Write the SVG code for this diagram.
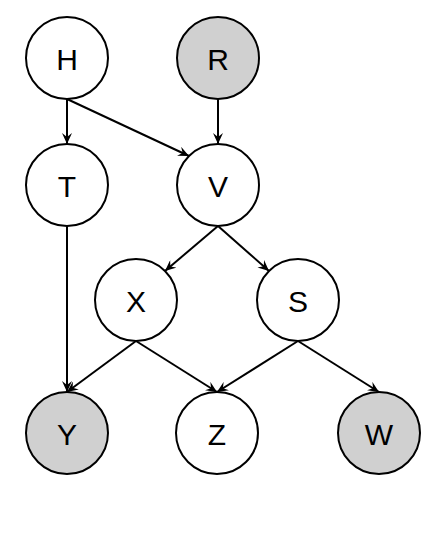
<svg xmlns="http://www.w3.org/2000/svg" width="447" height="540" viewBox="0 0 447 540">
<style>
.n circle{stroke:#000;stroke-width:2;fill:#fff}
.n.g circle{fill:#d0d0d0}
.n text{font-family:"Liberation Sans",Arial,sans-serif;font-size:30px;text-anchor:middle;dominant-baseline:central;fill:#000}
#edges line{stroke:#000;stroke-width:2;marker-end:url(#ah)}
</style>
<defs>
<marker id="ah" markerWidth="12" markerHeight="10" refX="11" refY="5" orient="auto" markerUnits="userSpaceOnUse">
<path d="M0,0 L11,5 L0,10 L4,5 z" fill="#000"/>
</marker>
</defs>
<rect width="447" height="540" fill="#fff"/>
<g id="edges">
<line x1="67" y1="99" x2="67" y2="144"/>
<line x1="67" y1="99" x2="189" y2="156"/>
<line x1="218" y1="99" x2="218" y2="144"/>
<line x1="218" y1="226" x2="165" y2="271"/>
<line x1="218" y1="226" x2="269" y2="271"/>
<line x1="67" y1="226" x2="67" y2="392"/>
<line x1="136" y1="341" x2="67" y2="392"/>
<line x1="136" y1="341" x2="217" y2="392"/>
<line x1="298" y1="341" x2="217" y2="392"/>
<line x1="298" y1="341" x2="379" y2="392"/>
</g>
<g id="H" class="n"><circle cx="67" cy="58" r="41"/><text x="67" y="59">H</text></g>
<g id="R" class="n g"><circle cx="218" cy="58" r="41"/><text x="218" y="59">R</text></g>
<g id="T" class="n"><circle cx="67" cy="185" r="41"/><text x="67" y="186">T</text></g>
<g id="V" class="n"><circle cx="218" cy="185" r="41"/><text x="218" y="186">V</text></g>
<g id="X" class="n"><circle cx="136" cy="300" r="41"/><text x="136" y="301">X</text></g>
<g id="S" class="n"><circle cx="298" cy="300" r="41"/><text x="298" y="301">S</text></g>
<g id="Y" class="n g"><circle cx="67" cy="433" r="41"/><text x="67" y="434">Y</text></g>
<g id="Z" class="n"><circle cx="217" cy="433" r="41"/><text x="217" y="434">Z</text></g>
<g id="W" class="n g"><circle cx="379" cy="433" r="41"/><text x="379" y="434">W</text></g>
</svg>
